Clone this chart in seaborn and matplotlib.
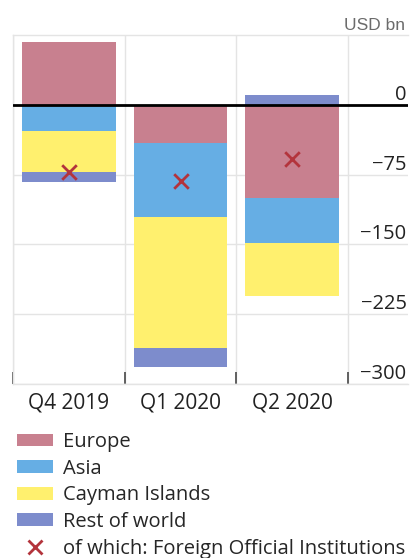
import numpy as np
import matplotlib
matplotlib.use("Agg")
import matplotlib.pyplot as plt
import seaborn as sns
from matplotlib.patches import Patch
from matplotlib.lines import Line2D

# ---- data ----
quarters = ["Q4 2019", "Q1 2020", "Q2 2020"]
europe = [68, -41, -100]
asia = [-28, -80, -49]
cayman = [-44, -140, -56]
rest_of_world = [-11, -21, 10]
foreign_official = [-72, -82, -58]
series_names = ["Europe", "Asia", "Cayman Islands", "Rest of world"]
foi_label = "of which: Foreign Official Institutions"
ytick_values = [0, -75, -150, -225, -300]
ytick_labels = ["0", "\u221275", "\u2212150", "\u2212225", "\u2212300"]
unit_label = "USD bn"

# ---- style ----
colors = ["#C8808F", "#66AEE4", "#FFF06E", "#7D8CCC"]
marker_color = "#B3343C"
grid_color = "#E4E4E4"

sns.set_theme(style="white")
plt.rcParams["font.family"] = ["Open Sans", "DejaVu Sans"]

W, H = 412, 558
fig = plt.figure(figsize=(W / 100, H / 100), dpi=100)
ax = fig.add_axes([13 / W, 1 - 384 / H, 395 / W, 349 / H])

pos = np.zeros(len(quarters))
neg = np.zeros(len(quarters))
for name, vals, c in zip(series_names, [europe, asia, cayman, rest_of_world], colors):
    v = np.array(vals, dtype=float)
    bottom = np.where(v >= 0, pos, neg)
    sns.barplot(x=quarters, y=v, bottom=bottom, color=c, saturation=1,
                width=0.84, errorbar=None, ax=ax, linewidth=0)
    pos += np.where(v >= 0, v, 0)
    neg += np.where(v < 0, v, 0)

sns.scatterplot(x=quarters, y=foreign_official, marker="x", s=110,
                color=marker_color, linewidth=2, ax=ax, zorder=6, legend=False)

ax.axhline(0, color="black", lw=2, zorder=5)

ax.set_xlim(-0.5, 2.5 + 60 / 112)
ax.set_ylim(-300, 75)

# x axis
ax.set_xticks(range(len(quarters)), labels=quarters)
ax.set_xticks([-0.5, 0.5, 1.5, 2.5], minor=True)
ax.tick_params(axis="x", which="major", length=0, pad=6, labelsize=15, colors="#222222")
ax.tick_params(axis="x", which="minor", direction="in", length=9, width=1.3,
               color="#555555", bottom=True)
ax.grid(which="minor", axis="x", color=grid_color, lw=1)

# y axis
ax.yaxis.tick_right()
ax.set_yticks(ytick_values, labels=ytick_labels)
ax.tick_params(axis="y", length=0, pad=-1, labelsize=14.5, colors="#222222")
for lab in ax.get_yticklabels():
    lab.set_horizontalalignment("right")
    lab.set_verticalalignment("bottom")
ax.grid(which="major", axis="y", color=grid_color, lw=1)
ax.set_axisbelow(True)
ax.set_xlabel("")
ax.set_ylabel("")

for side in ["top", "left", "bottom"]:
    ax.spines[side].set_color(grid_color)
    ax.spines[side].set_linewidth(1)
ax.spines["right"].set_visible(False)

fig.text(405 / W, 1 - 25 / H, unit_label, ha="right", va="center", fontsize=12.5,
         color="#6B6B6B", family=["Liberation Sans", "DejaVu Sans"])

handles = [Patch(facecolor=c, edgecolor="none") for c in colors]
handles.append(Line2D([], [], marker="x", linestyle="none", color=marker_color,
                      markersize=10, markeredgewidth=2))
fig.legend(handles, series_names + [foi_label], loc="upper left",
           bbox_to_anchor=(17 / W, 1 - 432 / H), frameon=False, fontsize=14.5,
           handlelength=1.8, handleheight=0.6, handletextpad=0.5,
           labelspacing=0.33, borderpad=0, borderaxespad=0)

fig.savefig("out.png", dpi=100)
